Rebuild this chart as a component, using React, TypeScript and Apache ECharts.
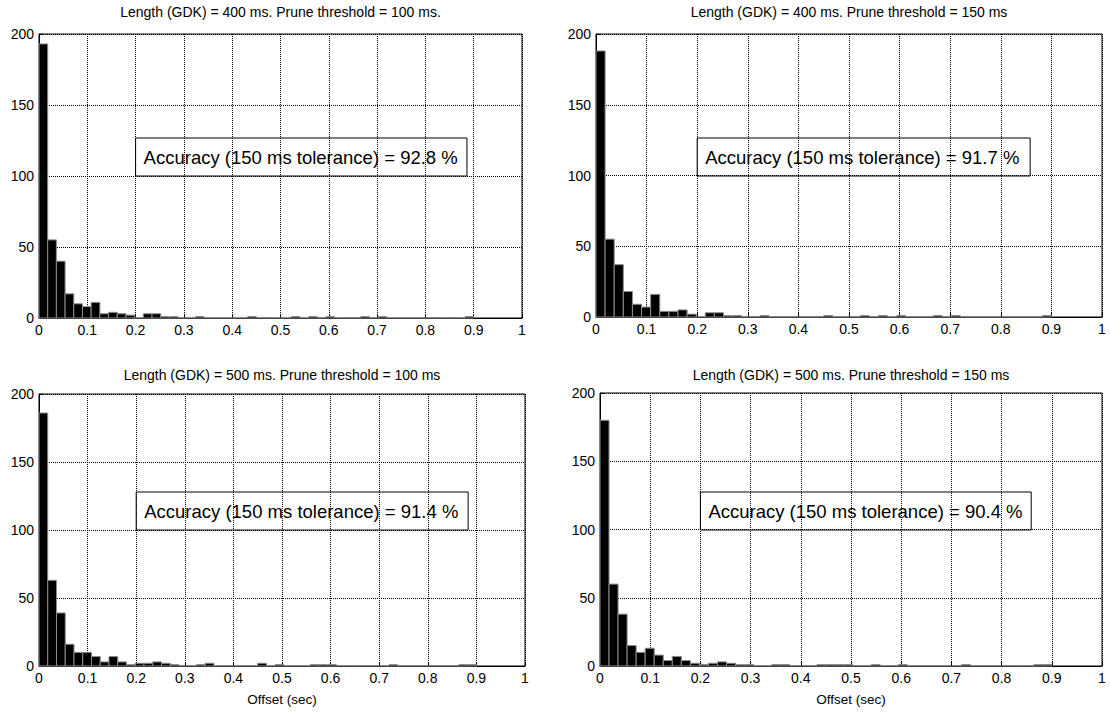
import React, { useEffect, useRef } from "react";
import * as echarts from "echarts";

// Histogram bins: 50 bins of 0.018 s spanning 0 .. 0.9 s
const BIN_WIDTH = 0.018;

const titles = [
  "Length (GDK) = 400 ms. Prune threshold = 100 ms.",
  "Length (GDK) = 400 ms. Prune threshold = 150 ms",
  "Length (GDK) = 500 ms. Prune threshold = 100 ms",
  "Length (GDK) = 500 ms. Prune threshold = 150 ms",
];

const accuracyLabels = [
  "Accuracy (150 ms tolerance) = 92.8 %",
  "Accuracy (150 ms tolerance) = 91.7 %",
  "Accuracy (150 ms tolerance) = 91.4 %",
  "Accuracy (150 ms tolerance) = 90.4 %",
];

const counts400_100 = [
  193, 55, 40, 17, 10, 8, 11, 3, 4, 3,
  2, 0, 3, 3, 1, 1, 0, 0, 1, 0,
  0, 0, 0, 0, 1, 0, 0, 0, 0, 1,
  0, 1, 0, 1, 0, 0, 0, 1, 0, 1,
  0, 0, 0, 0, 0, 0, 0, 0, 0, 1,
];
const counts400_150 = [
  188, 55, 37, 18, 9, 7, 16, 4, 4, 5,
  2, 0, 3, 3, 1, 1, 0, 0, 1, 0,
  0, 0, 0, 0, 0, 1, 0, 0, 0, 1,
  0, 1, 0, 1, 0, 0, 0, 1, 0, 1,
  0, 0, 0, 0, 0, 0, 0, 0, 0, 1,
];
const counts500_100 = [
  186, 63, 39, 16, 10, 10, 7, 3, 7, 3,
  1, 2, 2, 3, 2, 1, 0, 0, 1, 2,
  0, 0, 0, 0, 0, 2, 0, 1, 0, 0,
  0, 1, 1, 1, 0, 0, 0, 0, 0, 0,
  1, 0, 0, 0, 0, 0, 0, 0, 1, 1,
];
const counts500_150 = [
  180, 60, 38, 15, 10, 13, 8, 4, 7, 4,
  2, 1, 2, 3, 2, 1, 1, 0, 0, 1,
  1, 0, 0, 0, 1, 1, 1, 1, 0, 0,
  1, 0, 0, 1, 0, 0, 0, 0, 0, 0,
  1, 0, 0, 0, 0, 0, 0, 0, 1, 1,
];

const allCounts = [counts400_100, counts400_150, counts500_100, counts500_150];

const yTicks = { min: 0, max: 200, interval: 50 };
const xTicks = { min: 0, max: 1, interval: 0.1 };

// layout (pixels)
const grids = [
  { left: 39, top: 34, width: 483, height: 284 },
  { left: 596, top: 34, width: 506, height: 283 },
  { left: 39, top: 394, width: 486, height: 272 },
  { left: 600, top: 393, width: 502, height: 273 },
];
const titleTops = [5, 5, 368, 368];
const boxes = [
  { x0: 0.2, x1: 0.886, top: 138, bottom: 176 },
  { x0: 0.2, x1: 0.858, top: 138, bottom: 176 },
  { x0: 0.2, x1: 0.883, top: 492, bottom: 530 },
  { x0: 0.2, x1: 0.859, top: 492, bottom: 530 },
];

const FONT = "'Liberation Sans', Arial, Helvetica, sans-serif";

export default function App() {
  const ref = useRef<HTMLDivElement>(null);

  useEffect(() => {
    if (!ref.current) return;
    const chart = echarts.init(ref.current, undefined, { renderer: "svg" });

    const option: any = {
      animation: false,
      backgroundColor: "#ffffff",
      textStyle: { fontFamily: FONT },
      title: titles.map((t, i) => ({
        text: t,
        left: grids[i].left + grids[i].width / 2,
        top: titleTops[i],
        textAlign: "center",
        padding: 0,
        textStyle: { fontSize: 14, fontWeight: "normal", color: "#000", fontFamily: FONT },
      })),
      grid: grids.map((g) => ({
        left: g.left,
        top: g.top,
        width: g.width,
        height: g.height,
        show: true,
        borderColor: "#000",
        borderWidth: 1,
        backgroundColor: "transparent",
        containLabel: false,
      })),
      xAxis: grids.map((_, i) => ({
        type: "value",
        gridIndex: i,
        min: xTicks.min,
        max: xTicks.max,
        interval: xTicks.interval,
        name: i >= 2 ? "Offset (sec)" : "",
        nameLocation: "middle",
        nameGap: 26,
        nameTextStyle: { fontSize: 13.5, color: "#000", fontFamily: FONT },
        axisLine: { show: true, lineStyle: { color: "#000", width: 1 } },
        axisTick: { show: true, inside: true, length: 4, lineStyle: { color: "#000" } },
        axisLabel: { fontSize: 14, color: "#000", margin: 5, fontFamily: FONT },
        splitLine: { show: true, lineStyle: { color: "#000", type: [1, 1], width: 1 } },
      })),
      yAxis: grids.map((_, i) => ({
        type: "value",
        gridIndex: i,
        min: yTicks.min,
        max: yTicks.max,
        interval: yTicks.interval,
        axisLine: { show: true, lineStyle: { color: "#000", width: 1 } },
        axisTick: { show: true, inside: true, length: 4, lineStyle: { color: "#000" } },
        axisLabel: { fontSize: 14, color: "#000", margin: 5, fontFamily: FONT },
        splitLine: { show: true, lineStyle: { color: "#000", type: [1, 1], width: 1 } },
      })),
      series: allCounts.map((counts, i) => ({
        type: "custom",
        xAxisIndex: i,
        yAxisIndex: i,
        encode: { x: [0, 1], y: 2 },
        data: counts.map((c, k) => [k * BIN_WIDTH, (k + 1) * BIN_WIDTH, c]),
        renderItem: (params: any, api: any) => {
          const x0 = api.value(0);
          const x1 = api.value(1);
          const y = api.value(2);
          const p0 = api.coord([x0, y]);
          const p1 = api.coord([x1, 0]);
          if (y === 0) {
            return {
              type: "line",
              shape: { x1: p0[0], y1: p1[1], x2: p1[0], y2: p1[1] },
              style: { stroke: "#8c8c8c", lineWidth: 1 },
            };
          }
          return {
            type: "rect",
            shape: { x: p0[0], y: p0[1], width: p1[0] - p0[0], height: p1[1] - p0[1] },
            style: { fill: "#000", stroke: "#8c8c8c", lineWidth: 1 },
          };
        },
        z: 3,
      })),
      graphic: boxes.flatMap((b, i) => {
        const g = grids[i];
        const xa = g.left + b.x0 * g.width;
        const xb = g.left + b.x1 * g.width;
        return [
          {
            type: "rect",
            shape: { x: xa, y: b.top, width: xb - xa, height: b.bottom - b.top },
            style: { fill: "transparent", stroke: "#000", lineWidth: 1 },
            z: 10,
          },
          {
            type: "text",
            x: xa + 8,
            y: (b.top + b.bottom) / 2,
            style: {
              text: accuracyLabels[i],
              fontSize: 18.5,
              fontFamily: FONT,
              fill: "#000",
              verticalAlign: "middle",
              textAlign: "left",
            },
            z: 10,
          },
        ];
      }),
    };

    chart.setOption(option);
    return () => chart.dispose();
  }, []);

  return (
    <div
      ref={ref}
      style={{ position: "fixed", left: 0, top: 0, width: 1110, height: 713, background: "#fff" }}
    />
  );
}
